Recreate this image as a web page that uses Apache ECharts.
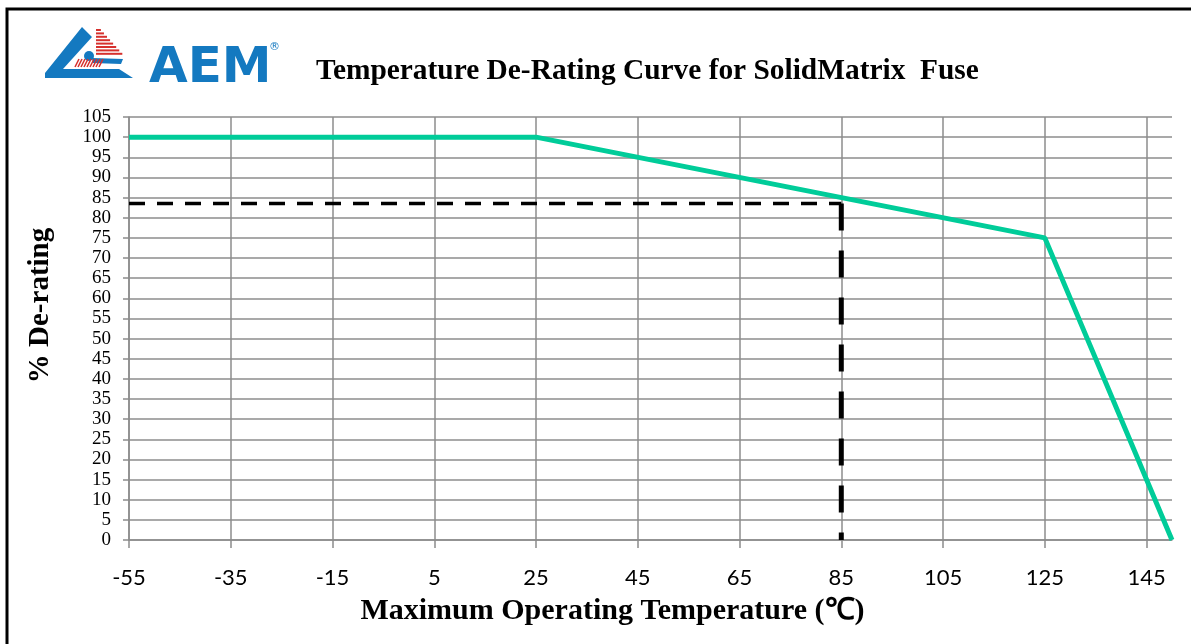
<!DOCTYPE html>
<html>
<head>
<meta charset="utf-8">
<script src="https://cdn.jsdelivr.net/npm/echarts@6/dist/echarts.min.js"></script>
<style>
html,body{margin:0;padding:0;background:#fff;}
#chart{width:1191px;height:644px;}
</style>
</head>
<body>
<div id="chart"></div>
<script>
// ---- data ----
const curveTemps = [-55, 25, 125, 150];
const curveRating = [100, 100, 75, 0];
const refTemp = 85;
const refRating = 83.5;
const xMin = -55, xMax = 150;
const xTickLabels = [-55, -35, -15, 5, 25, 45, 65, 85, 105, 125, 145];
const yMin = 0, yMax = 105, yStep = 5;
const titleText = 'Temperature De-Rating Curve for SolidMatrix  Fuse';
const xTitle = 'Maximum Operating Temperature (\u2103)';
const yTitle = '% De-rating';

const curveData = curveTemps.map((t, i) => [t, curveRating[i]]);
const hRefData = [[xMin, refRating], [refTemp, refRating]];
const vRefData = [[refTemp, refRating], [refTemp, yMin]];

// ---- logo decoration ----
const blue = '#1479c0', red = '#d6302d';
const logo = [];
logo.push({type:'polygon', shape:{points:[[82,27],[92,37],[63,69],[119,69],[133,78],[45,78],[45,73]]}, style:{fill:blue}});
logo.push({type:'circle', shape:{cx:89, cy:56, r:5}, style:{fill:blue}});
logo.push({type:'polygon', shape:{points:[[92,58],[123,59],[121,64],[93,63]]}, style:{fill:blue}});
for (let i = 0; i < 8; i++) {
  const y = 30 + i * 3.4;
  logo.push({type:'line', shape:{x1:96, y1:y, x2:100 + (y - 29) * 0.9, y2:y}, style:{stroke:red, lineWidth:2}});
}
for (let i = 0; i < 9; i++) {
  const x = 75 + i * 3;
  logo.push({type:'line', shape:{x1:x, y1:67, x2:x + 4, y2:59}, style:{stroke:red, lineWidth:1.6}});
}
logo.push({type:'text', x:149, y:94, style:{text:'AEM', fill:blue, font:'bold 50px "DejaVu Sans"', textVerticalAlign:'bottom'}});
logo.push({type:'text', x:269, y:42, style:{text:'\u00ae', fill:blue, font:'11px "DejaVu Sans"'}});
logo.push({type:'polyline', shape:{points:[[7,644],[7,9],[1191,9]]}, style:{stroke:'#000', lineWidth:3, fill:null}});

const chart = echarts.init(document.getElementById('chart'));
chart.setOption({
  backgroundColor:'#fff',
  animation:false,
  title:{
    text:titleText, left:316, top:57, padding:0,
    textStyle:{fontFamily:'Liberation Serif', fontWeight:'bold', fontSize:29.4, color:'#000'}
  },
  graphic: logo,
  grid:{left:129, right:19, top:117, bottom:104, containLabel:false},
  xAxis:{
    type:'value', min:xMin, max:xMax,
    name:xTitle, nameLocation:'middle', nameGap:56,
    nameTextStyle:{fontFamily:'Liberation Serif', fontWeight:'bold', fontSize:30, color:'#000', padding:[0,76,0,0]},
    axisLine:{show:true, onZero:false, lineStyle:{color:'#8c8c8c', width:1.5}},
    axisTick:{show:true, length:8, customValues:xTickLabels, lineStyle:{color:'#8c8c8c', width:1.5}},
    axisLabel:{customValues:xTickLabels, margin:27, fontFamily:'Lato', fontSize:22, color:'#000'},
    splitLine:{show:true, customValues:xTickLabels, lineStyle:{color:'#8c8c8c', width:1.5}}
  },
  yAxis:{
    type:'value', min:yMin, max:yMax, interval:yStep,
    name:yTitle, nameLocation:'middle', nameGap:74, nameRotate:90,
    nameTextStyle:{fontFamily:'Liberation Serif', fontWeight:'bold', fontSize:29, color:'#000', padding:[0,0,0,46]},
    axisLine:{show:true, onZero:false, lineStyle:{color:'#8c8c8c', width:1.5}},
    axisTick:{show:true, length:6, lineStyle:{color:'#8c8c8c', width:1.5}},
    axisLabel:{margin:18, fontFamily:'Liberation Serif', fontSize:19, color:'#000'},
    splitLine:{show:true, lineStyle:{color:'#8c8c8c', width:1.5}}
  },
  series:[
    {type:'line', data:hRefData, symbol:'none', z:3,
     lineStyle:{color:'#000', width:3.5, type:[16,12]}},
    {type:'line', data:vRefData, symbol:'none', z:3,
     lineStyle:{color:'#000', width:5, type:[27,20]}},
    {type:'line', data:curveData, symbol:'none', z:4,
     lineStyle:{color:'#00cc99', width:5}}
  ]
});
</script>
</body>
</html>
